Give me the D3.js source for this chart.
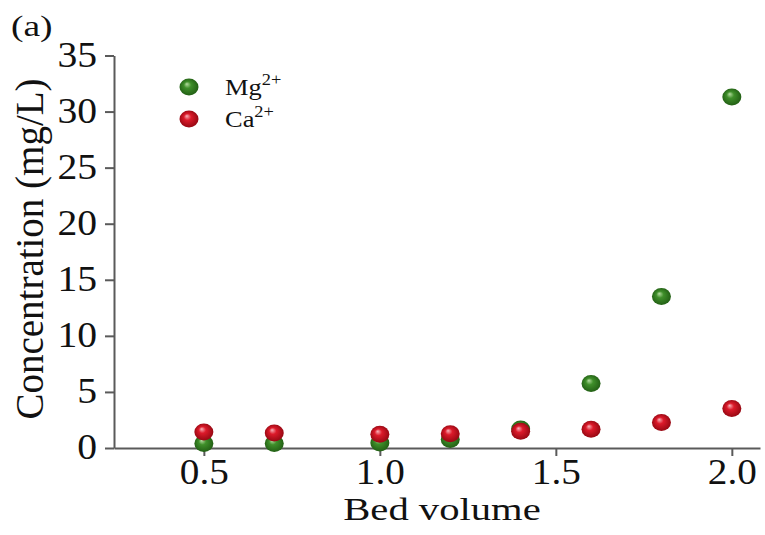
<!DOCTYPE html>
<html>
<head>
<meta charset="utf-8">
<script src="https://cdn.jsdelivr.net/npm/d3@7"></script>
<style>
  html, body { margin: 0; padding: 0; background: #fff; }
  svg { display: block; }
  text { font-family: "Liberation Serif", "Times New Roman", serif; fill: #111; }
</style>
</head>
<body>
<svg id="chart" width="765" height="535"></svg>
<script>
// Bed volumes sampled
const bedVolume = [0.5, 0.7, 1.0, 1.2, 1.4, 1.6, 1.8, 2.0];
// Effluent concentrations (mg/L)
const mgValues = [0.4, 0.4, 0.45, 0.75, 1.7, 5.75, 13.5, 31.3];
const caValues = [1.43, 1.34, 1.22, 1.28, 1.49, 1.67, 2.27, 3.52];
const xTicks = [0.5, 1.0, 1.5, 2.0];
const yTicks = [0, 5, 10, 15, 20, 25, 30, 35];
const seriesNames = ["Mg", "Ca"];

const svg = d3.select("#chart");
const axisColor = "#5a5a5a";

const x = d3.scaleLinear().domain([0.2447, 2.08]).range([114, 760]);
const y = d3.scaleLinear().domain([0, 35]).range([448, 55.5]);

// Sphere-like shading for markers
const defs = svg.append("defs");
function sphere(id, light, mid, dark) {
  const g = defs.append("radialGradient").attr("id", id)
    .attr("cx", "50%").attr("cy", "50%").attr("r", "55%")
    .attr("fx", "38%").attr("fy", "32%");
  g.append("stop").attr("offset", "0%").attr("stop-color", light);
  g.append("stop").attr("offset", "35%").attr("stop-color", mid);
  g.append("stop").attr("offset", "100%").attr("stop-color", dark);
}
sphere("gGreen", "#b5dca0", "#3f8f2a", "#1f5a12");
sphere("gRed", "#f8b4bb", "#dc1a2a", "#8e0610");

// Axes
const xAxis = d3.axisBottom(x).tickValues(xTicks).tickFormat(d3.format(".1f"))
  .tickSize(8).tickSizeOuter(0);
const yAxis = d3.axisLeft(y).tickValues(yTicks).tickFormat(d3.format("d"))
  .tickSize(9).tickSizeOuter(0);

const gx = svg.append("g").attr("transform", `translate(0,${y(0)})`).call(xAxis);
const gy = svg.append("g").attr("transform", `translate(${x.range()[0]},0)`).call(yAxis);

[gx, gy].forEach(g => {
  g.select(".domain").attr("stroke", axisColor).attr("stroke-width", 2);
  g.selectAll(".tick line").attr("stroke", axisColor).attr("stroke-width", 2);
  g.selectAll(".tick text")
    .style("font-family", '"Liberation Serif", serif')
    .style("font-size", "35px").attr("fill", "#111");
});
gx.selectAll(".tick text")
  .attr("x", 0).attr("y", 0).attr("dy", 0)
  .attr("transform", "translate(0,36) scale(1.12,1)");
gy.selectAll(".tick text")
  .style("font-size", "36px")
  .attr("x", 0).attr("y", 0).attr("dy", "0.3em")
  .attr("transform", "translate(-17,0) scale(1.1,1)");

// Axis titles
svg.append("text")
  .attr("transform", "translate(442,520) scale(1.27,1)")
  .attr("text-anchor", "middle")
  .style("font-size", "32px")
  .text("Bed volume");

svg.append("text")
  .attr("transform", "translate(43,249) rotate(-90)")
  .attr("text-anchor", "middle")
  .style("font-size", "39px")
  .text("Concentration (mg/L)");

// Panel tag
svg.append("text")
  .attr("transform", "translate(11,36) scale(1.25,1)")
  .style("font-size", "30px").text("(a)");

// Markers
const rx = 9.5, ry = 8.5;
function drawSeries(vals, fill) {
  svg.append("g").selectAll("ellipse").data(bedVolume.map((b, i) => [b, vals[i]]))
    .join("ellipse")
    .attr("cx", d => x(d[0])).attr("cy", d => y(d[1]))
    .attr("rx", rx).attr("ry", ry)
    .attr("fill", fill);
}
drawSeries(mgValues, "url(#gGreen)");
drawSeries(caValues, "url(#gRed)");

// Legend
const legend = svg.append("g");
const legendItems = [
  { name: seriesNames[0], fill: "url(#gGreen)", y: 87 },
  { name: seriesNames[1], fill: "url(#gRed)", y: 119 }
];
legendItems.forEach(it => {
  legend.append("ellipse").attr("cx", 189).attr("cy", it.y).attr("rx", rx).attr("ry", ry).attr("fill", it.fill);
  const t = legend.append("text")
    .attr("transform", `translate(225,${it.y + 8}) scale(1.15,1)`)
    .style("font-size", "23px");
  t.append("tspan").text(it.name);
  t.append("tspan").attr("dy", -10).style("font-size", "16px").text("2+");
});
</script>
</body>
</html>
